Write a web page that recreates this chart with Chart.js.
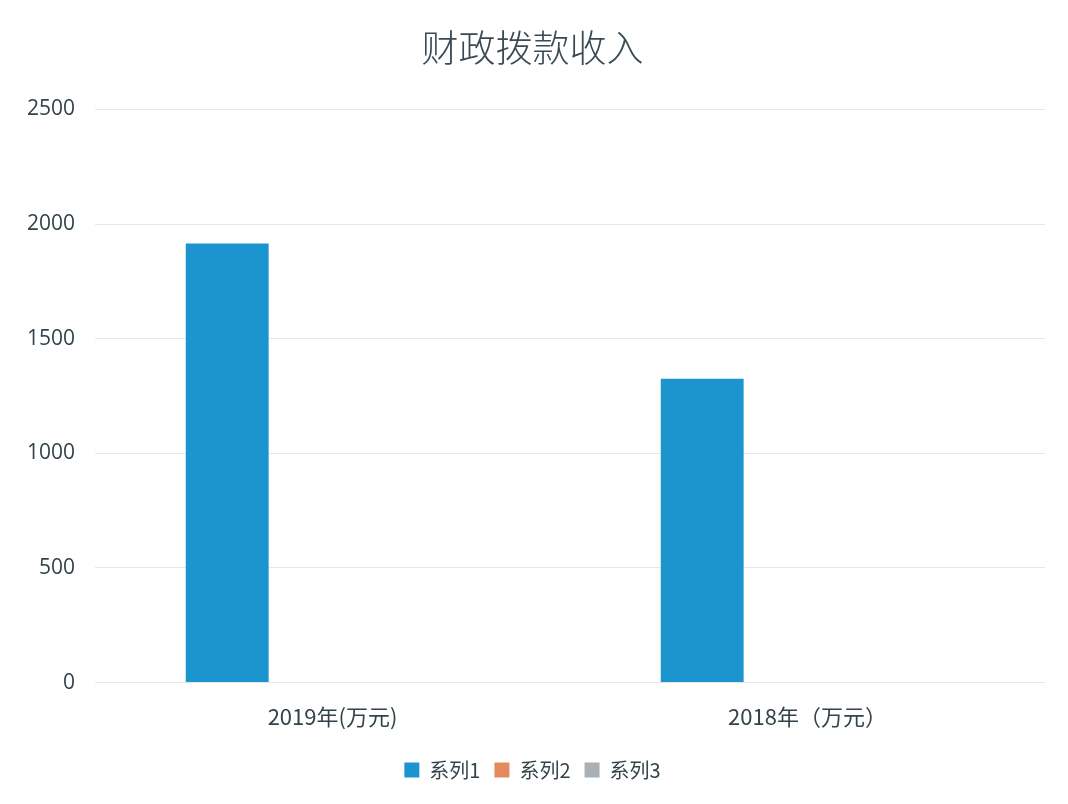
<!DOCTYPE html>
<html>
<head>
<meta charset="utf-8">
<script src="https://cdn.jsdelivr.net/npm/chart.js@4/dist/chart.umd.min.js"></script>
<style>
  html, body { margin: 0; padding: 0; background: #fff; }
  #wrap { width: 1068px; height: 804px; position: relative; }
</style>
</head>
<body>
<div id="wrap"><canvas id="chart" width="1068" height="804"></canvas></div>
<script>
// chart data
const categories = ["2019年(万元)", "2018年（万元）"];
const seriesNames = ["系列1", "系列2", "系列3"];
const series1 = [1915, 1325];
const series2 = [null, null];
const series3 = [null, null];
const yTicks = [0, 500, 1000, 1500, 2000, 2500];

const colors = ["#1c95cf", "#e58a5e", "#a9b1b6"];
const textColor = "#33434a";

const ctx = document.getElementById("chart");

new Chart(ctx, {
    type: "bar",
    data: {
        labels: categories,
        datasets: [series1, series2, series3].map((vals, i) => ({
            label: seriesNames[i],
            data: vals,
            backgroundColor: colors[i],
            categoryPercentage: 0.665,
            barPercentage: 0.787
        }))
    },
    options: {
        responsive: false,
        animation: false,
        layout: { padding: { left: 20, right: 23, top: 0, bottom: 14 } },
        plugins: {
            title: {
                display: true,
                text: "财政拨款收入",
                color: "#3a4a52",
                font: { family: "'Noto Sans CJK SC'", size: 37, weight: 300 },
                padding: { top: 26, bottom: 39 }
            },
            legend: {
                position: "bottom",
                labels: {
                    color: textColor,
                    boxWidth: 15,
                    boxHeight: 15,
                    padding: 14,
                    font: { family: "'Noto Sans CJK SC'", size: 20 }
                }
            },
            tooltip: { enabled: false }
        },
        scales: {
            x: {
                grid: { display: false },
                border: { display: false },
                afterFit: scale => { scale.height += 3; },
                ticks: {
                    color: textColor,
                    padding: 13,
                    font: { family: "'Noto Sans CJK SC'", size: 22 }
                }
            },
            y: {
                min: yTicks[0],
                max: yTicks[yTicks.length - 1],
                afterBuildTicks: scale => {
                    scale.ticks = yTicks.map(v => ({ value: v }));
                },
                afterFit: scale => { scale.width = 75; },
                grid: { color: "#e4e6ea", drawTicks: false },
                border: { display: false },
                ticks: {
                    color: textColor,
                    padding: 20,
                    callback: v => String(v),
                    font: { family: "'Open Sans'", size: 21 }
                }
            }
        }
    }
});
</script>
</body>
</html>
